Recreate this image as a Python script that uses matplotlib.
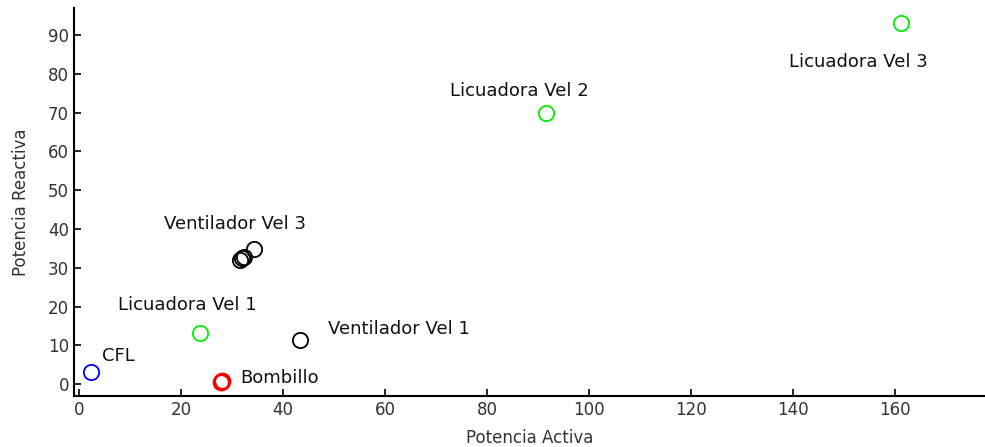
#!/usr/bin/env python3
"""potencia activa vs reactiva de cargas"""
import matplotlib
matplotlib.use("Agg")
import matplotlib.pyplot as plt

### data
p_licuadora = [23.7, 91.6, 161.2]
q_licuadora = [13.2, 69.9, 93.1]
p_ventilador = [43.3, 31.6, 32.0, 32.3, 34.3]
q_ventilador = [11.3, 32.0, 32.4, 32.8, 34.8]
p_cfl = [2.4]
q_cfl = [3.1]
p_bombillo = [27.8, 28.1]
q_bombillo = [0.5, 0.7]

etiquetas = ["CFL", "Bombillo", "Licuadora Vel 1", "Ventilador Vel 1",
             "Ventilador Vel 3", "Licuadora Vel 2", "Licuadora Vel 3"]
etiq_x = [4.5, 31.6, 21.2, 48.8, 30.6, 86.3, 152.7]
etiq_y = [7.2, 1.5, 20.4, 14.3, 41.3, 75.6, 83.0]
etiq_ha = ["left", "left", "center", "left", "center", "center", "center"]

plt.rcParams["font.family"] = ["DejaVu Sans"]

fig = plt.figure(figsize=(9.85, 4.47), dpi=100)
ax = fig.add_axes([0.075, 0.114, 0.925, 0.868])

ax.plot(p_licuadora, q_licuadora, "o", mfc="none", mec="#00ee00", ms=11, mew=1.3)
ax.plot(p_ventilador, q_ventilador, "o", mfc="none", mec="black", ms=11, mew=1.3)
ax.plot(p_cfl, q_cfl, "o", mfc="none", mec="blue", ms=11, mew=1.3)
ax.plot(p_bombillo, q_bombillo, "o", mfc="none", mec="red", ms=11, mew=1.8)

for t, x, y, ha in zip(etiquetas, etiq_x, etiq_y, etiq_ha):
    ax.text(x, y, t, ha=ha, va="center", fontsize=13, color="#111111")

ax.set_xlim(-1, 177.6)
ax.set_ylim(-3.1, 97)
ax.set_xticks(range(0, 161, 20))
ax.set_yticks(range(0, 91, 10))
ax.spines["top"].set_visible(False)
ax.spines["right"].set_visible(False)
ax.spines["left"].set_linewidth(1.5)
ax.spines["bottom"].set_linewidth(1.5)
ax.tick_params(direction="in", length=5, width=1.2, labelsize=12, colors="black",
               labelcolor="#333333")
ax.set_xlabel("Potencia Activa", fontsize=12, color="#333333", labelpad=7)
ax.set_ylabel("Potencia Reactiva", fontsize=12, color="#333333", labelpad=13)

fig.savefig("out.png", dpi=100)
